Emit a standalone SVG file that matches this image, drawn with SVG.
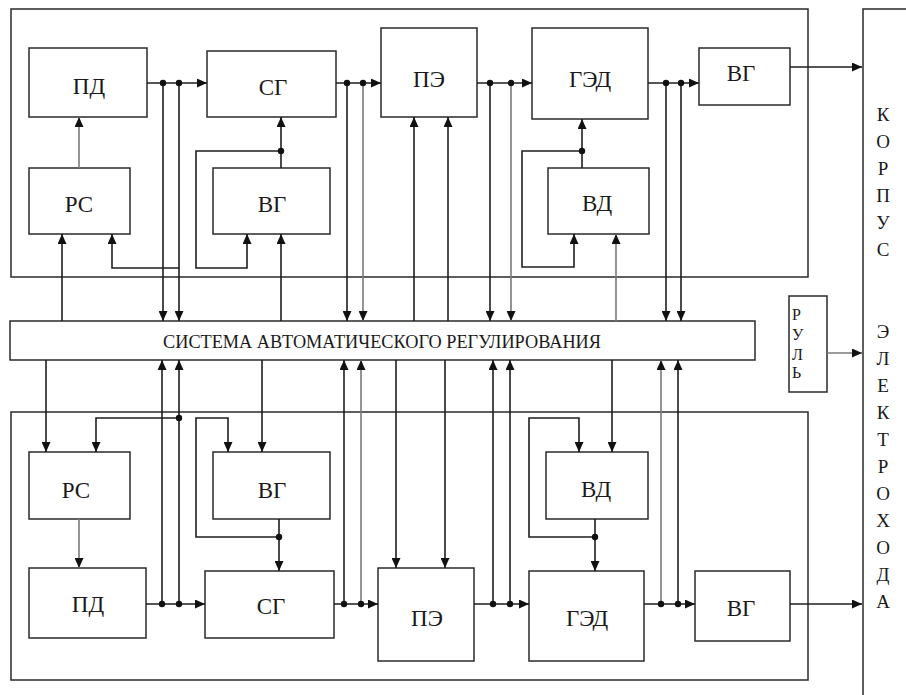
<svg xmlns="http://www.w3.org/2000/svg" width="906" height="695" viewBox="0 0 906 695">
<style>
.box{fill:#fff;stroke:#2a2a2a;stroke-width:1.5}
.frame{fill:none;stroke:#2a2a2a;stroke-width:1.5}
.ln{fill:none;stroke:#1e1e1e;stroke-width:1.6}
.gr{stroke:#7a7a7a}
.lbl{font-family:"Liberation Serif","Times New Roman","DejaVu Serif",serif;font-size:23px;fill:#1a1a1a;text-anchor:middle}
.big{font-family:"Liberation Serif","Times New Roman","DejaVu Serif",serif;font-size:18px;fill:#1a1a1a;text-anchor:middle}
.vt{font-family:"Liberation Serif","Times New Roman","DejaVu Serif",serif;font-size:19px;fill:#1a1a1a;text-anchor:middle}
.rl{font-family:"Liberation Serif","Times New Roman","DejaVu Serif",serif;font-size:16px;fill:#1a1a1a}
.dot{fill:#111}
</style>
<defs>
<marker id="a" markerWidth="10" markerHeight="9" refX="10" refY="4.5" orient="auto" markerUnits="userSpaceOnUse"><path d="M0,0 L10,4.5 L0,9z" fill="#111"/></marker>
</defs>
<rect width="906" height="695" fill="#fff"/>
<g id="frames">
<rect class="frame" x="11" y="9" width="797" height="268"/>
<rect class="frame" x="11" y="412" width="797" height="268"/>
</g>
<g id="korpus">
<rect class="frame" x="863" y="9" width="60" height="700"/>
<text class="vt" x="883" y="121">К</text>
<text class="vt" x="883" y="148">О</text>
<text class="vt" x="883" y="175">Р</text>
<text class="vt" x="883" y="202">П</text>
<text class="vt" x="883" y="229">У</text>
<text class="vt" x="883" y="256">С</text>
<text class="vt" x="883" y="338">Э</text>
<text class="vt" x="883" y="365">Л</text>
<text class="vt" x="883" y="392">Е</text>
<text class="vt" x="883" y="419">К</text>
<text class="vt" x="883" y="446">Т</text>
<text class="vt" x="883" y="473">Р</text>
<text class="vt" x="883" y="500">О</text>
<text class="vt" x="883" y="527">Х</text>
<text class="vt" x="883" y="554">О</text>
<text class="vt" x="883" y="581">Д</text>
<text class="vt" x="883" y="608">А</text>
</g>
<g id="rul">
<rect class="box" x="789" y="296" width="38" height="96"/>
<text class="rl" x="792" y="320">Р</text>
<text class="rl" x="792" y="340">У</text>
<text class="rl" x="792" y="360">Л</text>
<text class="rl" x="792" y="378">Ь</text>
</g>
<g id="sar">
<rect class="box" x="10" y="321" width="745" height="39"/>
<text class="big" x="382" y="348" textLength="438" lengthAdjust="spacingAndGlyphs">СИСТЕМА АВТОМАТИЧЕСКОГО РЕГУЛИРОВАНИЯ</text>
</g>
<g id="pd1"><rect class="box" x="29" y="48" width="118" height="69"/><text class="lbl" x="89" y="94">ПД</text></g>
<g id="rs1"><rect class="box" x="29" y="168" width="101" height="66"/><text class="lbl" x="79" y="212">РС</text></g>
<g id="sg1"><rect class="box" x="207" y="51" width="129" height="66"/><text class="lbl" x="273" y="95">СГ</text></g>
<g id="vg1"><rect class="box" x="213" y="168" width="117" height="66"/><text class="lbl" x="272" y="212">ВГ</text></g>
<g id="pe1"><rect class="box" x="381" y="28" width="96" height="89"/><text class="lbl" x="429" y="87">ПЭ</text></g>
<g id="ged1"><rect class="box" x="532" y="28" width="116" height="91"/><text class="lbl" x="590" y="87">ГЭД</text></g>
<g id="vd1"><rect class="box" x="548" y="168" width="101" height="66"/><text class="lbl" x="597" y="211">ВД</text></g>
<g id="vgo1"><rect class="box" x="699" y="48" width="91" height="57"/><text class="lbl" x="741" y="81">ВГ</text></g>
<g id="rs2"><rect class="box" x="29" y="452" width="101" height="67"/><text class="lbl" x="76" y="498">РС</text></g>
<g id="vg2"><rect class="box" x="213" y="452" width="117" height="67"/><text class="lbl" x="272" y="498">ВГ</text></g>
<g id="pd2"><rect class="box" x="29" y="568" width="117" height="70"/><text class="lbl" x="88" y="612">ПД</text></g>
<g id="sg2"><rect class="box" x="205" y="571" width="129" height="67"/><text class="lbl" x="271" y="614">СГ</text></g>
<g id="pe2"><rect class="box" x="378" y="568" width="96" height="93"/><text class="lbl" x="427" y="626">ПЭ</text></g>
<g id="vd2"><rect class="box" x="546" y="452" width="102" height="67"/><text class="lbl" x="596" y="497">ВД</text></g>
<g id="ged2"><rect class="box" x="529" y="571" width="115" height="90"/><text class="lbl" x="587" y="626">ГЭД</text></g>
<g id="vgo2"><rect class="box" x="695" y="571" width="95" height="70"/><text class="lbl" x="741" y="616">ВГ</text></g>
<g id="connectors">
<path class="ln" d="M147,83H207" marker-end="url(#a)"/>
<path class="ln" d="M163,83V321" marker-end="url(#a)"/>
<path class="ln" d="M179,83V321" marker-end="url(#a)"/>
<path class="ln gr" d="M79,168V117" marker-end="url(#a)"/>
<path class="ln" d="M62,321V234" marker-end="url(#a)"/>
<path class="ln" d="M179,268H112V234" marker-end="url(#a)"/>
<path class="ln" d="M336,83H381" marker-end="url(#a)"/>
<path class="ln" d="M347,83V321" marker-end="url(#a)"/>
<path class="ln gr" d="M363,83V321" marker-end="url(#a)"/>
<path class="ln" d="M281,168V117" marker-end="url(#a)"/>
<path class="ln" d="M281,151H196V268H247V234" marker-end="url(#a)"/>
<path class="ln" d="M281,321V234" marker-end="url(#a)"/>
<path class="ln" d="M414,321V117" marker-end="url(#a)"/>
<path class="ln" d="M448,321V117" marker-end="url(#a)"/>
<path class="ln" d="M477,83H532" marker-end="url(#a)"/>
<path class="ln" d="M490,83V321" marker-end="url(#a)"/>
<path class="ln gr" d="M511,83V321" marker-end="url(#a)"/>
<path class="ln" d="M582,168V119" marker-end="url(#a)"/>
<path class="ln" d="M582,151H522V267H574V234" marker-end="url(#a)"/>
<path class="ln gr" d="M616,321V234" marker-end="url(#a)"/>
<path class="ln" d="M648,83H699" marker-end="url(#a)"/>
<path class="ln" d="M666,83V321" marker-end="url(#a)"/>
<path class="ln" d="M681,83V321" marker-end="url(#a)"/>
<path class="ln" d="M790,67H862" marker-end="url(#a)"/>
<path class="ln gr" d="M827,353H862" marker-end="url(#a)"/>
<path class="ln" d="M46,360V452" marker-end="url(#a)"/>
<path class="ln" d="M179,418H96V452" marker-end="url(#a)"/>
<path class="ln gr" d="M79,519V568" marker-end="url(#a)"/>
<path class="ln" d="M146,604H205" marker-end="url(#a)"/>
<path class="ln" d="M162,604V360" marker-end="url(#a)"/>
<path class="ln" d="M179,604V360" marker-end="url(#a)"/>
<path class="ln" d="M279,519V571" marker-end="url(#a)"/>
<path class="ln" d="M279,537H196V418H228V452" marker-end="url(#a)"/>
<path class="ln" d="M262,360V452" marker-end="url(#a)"/>
<path class="ln" d="M334,604H378" marker-end="url(#a)"/>
<path class="ln" d="M344,604V360" marker-end="url(#a)"/>
<path class="ln gr" d="M361,604V360" marker-end="url(#a)"/>
<path class="ln" d="M396,360V568" marker-end="url(#a)"/>
<path class="ln" d="M445,360V568" marker-end="url(#a)"/>
<path class="ln" d="M474,604H529" marker-end="url(#a)"/>
<path class="ln" d="M493,604V360" marker-end="url(#a)"/>
<path class="ln" d="M510,604V360" marker-end="url(#a)"/>
<path class="ln" d="M595,519V571" marker-end="url(#a)"/>
<path class="ln" d="M595,537H529V418H579V452" marker-end="url(#a)"/>
<path class="ln" d="M612,360V452" marker-end="url(#a)"/>
<path class="ln" d="M644,604H695" marker-end="url(#a)"/>
<path class="ln gr" d="M661,604V360" marker-end="url(#a)"/>
<path class="ln" d="M678,604V360" marker-end="url(#a)"/>
<path class="ln" d="M790,604H862" marker-end="url(#a)"/>
<g class="dot">
<circle cx="163" cy="83" r="3.2"/><circle cx="179" cy="83" r="3.2"/>
<circle cx="347" cy="83" r="3.2"/><circle cx="363" cy="83" r="3.2"/>
<circle cx="490" cy="83" r="3.2"/><circle cx="511" cy="83" r="3.2"/>
<circle cx="666" cy="83" r="3.2"/><circle cx="681" cy="83" r="3.2"/>
<circle cx="281" cy="151" r="3.2"/><circle cx="582" cy="151" r="3.2"/>
<circle cx="179" cy="418" r="3.2"/>
<circle cx="162" cy="604" r="3.2"/><circle cx="179" cy="604" r="3.2"/>
<circle cx="344" cy="604" r="3.2"/><circle cx="361" cy="604" r="3.2"/>
<circle cx="493" cy="604" r="3.2"/><circle cx="510" cy="604" r="3.2"/>
<circle cx="661" cy="604" r="3.2"/><circle cx="678" cy="604" r="3.2"/>
<circle cx="279" cy="537" r="3.2"/><circle cx="595" cy="537" r="3.2"/>
</g>
</g>
</svg>
